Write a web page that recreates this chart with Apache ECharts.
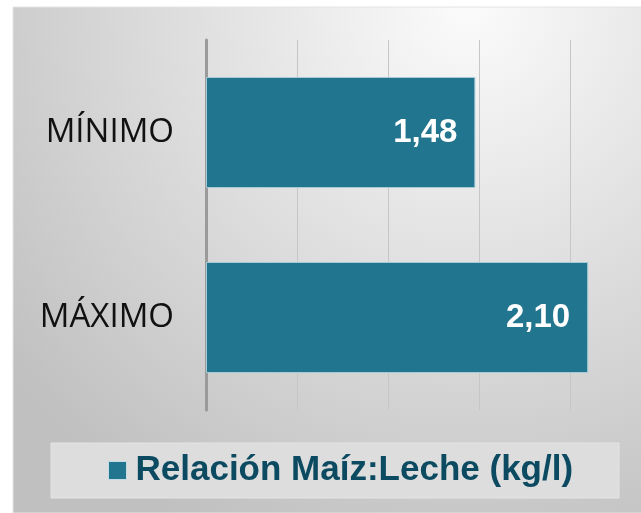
<!DOCTYPE html>
<html>
<head>
    <meta charset="utf-8">
    <title>Relación Maíz:Leche</title>
    <script src="https://cdn.jsdelivr.net/npm/echarts@6/dist/echarts.min.js"></script>
    <style>
        html, body { margin: 0; padding: 0; background: #fff; overflow: hidden; }
    </style>
</head>
<body>
    <!-- el lienzo es algo más ancho que la ventana para que el eje llegue a 2,5 fuera de la vista -->
    <div id="main" style="width: 662px;height:513px;"></div>
    <script type="text/javascript">
        // datos
        var categorias = ['MÍNIMO', 'MÁXIMO'];
        var valores = [1.48, 2.10];
        var nombreSerie = 'Relación Maíz:Leche (kg/l)';

        var myChart = echarts.init(document.getElementById('main'));

        var option = {
            animation: false,
            graphic: [
                // fondo del panel
                {
                    type: 'rect', z: -10,
                    shape: { x: 13, y: 7, width: 649, height: 506 },
                    style: {
                        fill: {
                            type: 'radial', x: 0.7, y: 0, r: 1.15,
                            colorStops: [
                                { offset: 0, color: '#fbfbfb' },
                                { offset: 1, color: '#c0c0c0' }
                            ]
                        },
                        stroke: '#e4e4e4', lineWidth: 1
                    }
                },
                // caja de la leyenda
                {
                    type: 'rect', z: -9,
                    shape: { x: 51, y: 443, width: 568, height: 55 },
                    style: { fill: '#dddddd', stroke: '#e4e4e4', lineWidth: 1 }
                }
            ],
            grid: { left: 206, right: 1, top: 40, bottom: 103 },
            legend: {
                data: [nombreSerie],
                left: 108, top: 453, padding: 0,
                icon: 'rect',
                itemWidth: 18, itemHeight: 18,
                itemStyle: { borderColor: '#c4dde4', borderWidth: 1 },
                textStyle: {
                    fontFamily: 'Liberation Sans', fontSize: 35, fontWeight: 'bold',
                    color: '#0b4a60', padding: [0, 0, 0, 4]
                }
            },
            xAxis: {
                type: 'value', min: 0, max: 2.5, interval: 0.5,
                axisLine: { show: false },
                axisTick: { show: false },
                axisLabel: { show: false },
                splitLine: { lineStyle: { color: '#c6c6c6', width: 1 } }
            },
            yAxis: {
                type: 'category', inverse: true,
                data: categorias,
                axisLine: { lineStyle: { color: '#9a9a9a', width: 3 } },
                axisTick: { show: false },
                axisLabel: {
                    margin: 32, fontFamily: 'Open Sans', fontSize: 33, color: '#111'
                }
            },
            series: [{
                name: nombreSerie,
                type: 'bar',
                data: valores,
                barWidth: '60%',
                itemStyle: { color: '#22758e', borderColor: '#a6cbd6', borderWidth: 1 },
                label: {
                    show: true, position: 'insideRight', distance: 18,
                    color: '#fff', fontFamily: 'Liberation Sans', fontSize: 33, fontWeight: 'bold',
                    formatter: function (p) { return p.value.toFixed(2).replace('.', ','); }
                }
            }]
        };

        myChart.setOption(option);
    </script>
</body>
</html>
